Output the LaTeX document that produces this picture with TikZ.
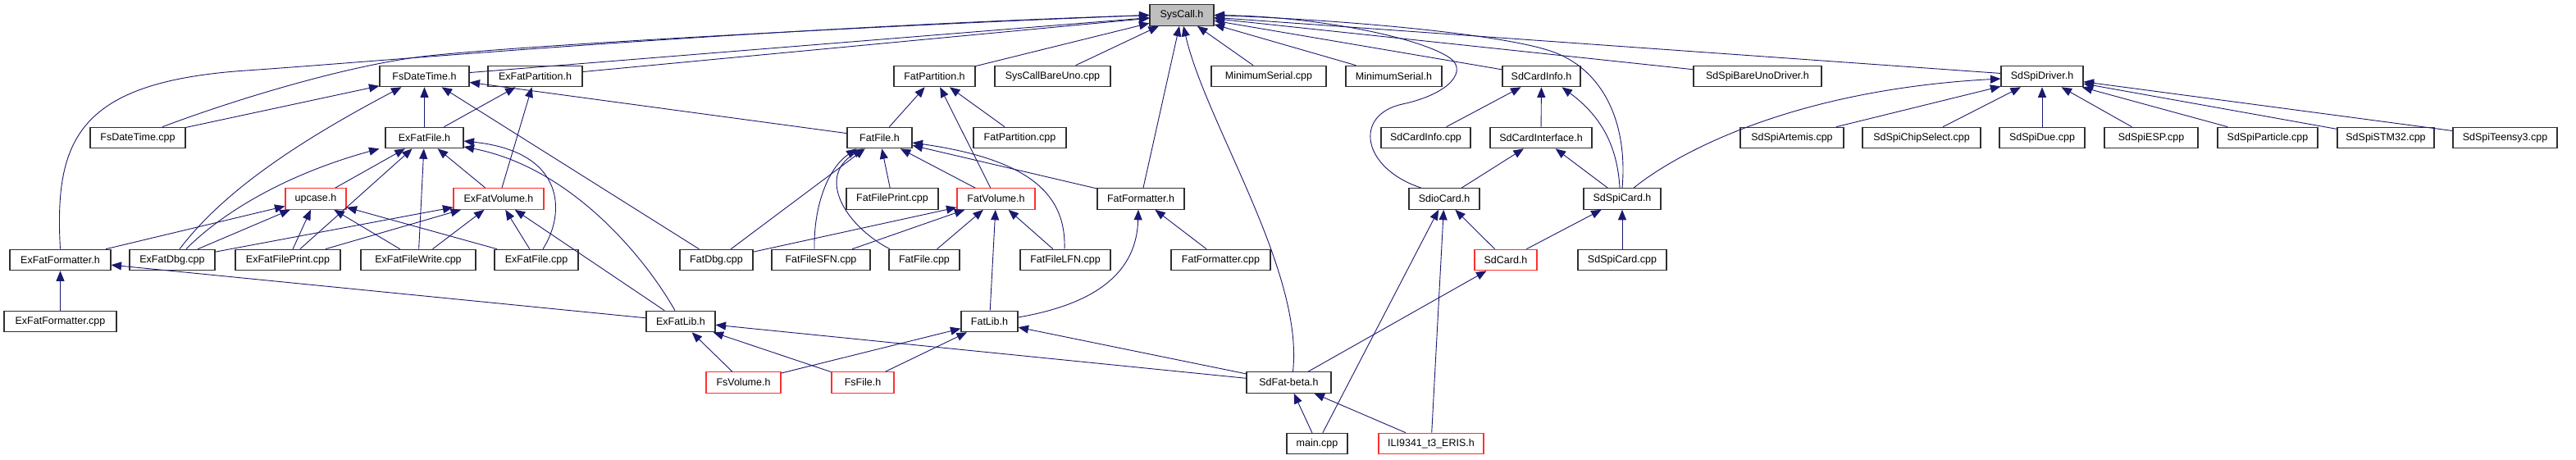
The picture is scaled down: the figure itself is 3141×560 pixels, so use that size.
\documentclass[tikz,border=0pt]{standalone}
\usepackage{fontspec}
\setmainfont{Liberation Sans}
\usetikzlibrary{arrows.meta}
\definecolor{edgecol}{HTML}{191970}
\definecolor{boxcol}{HTML}{303030}
\definecolor{redcol}{HTML}{FF3030}
\definecolor{rootfill}{HTML}{BFBFBF}
\begin{document}
\begin{tikzpicture}[x=1pt,y=-1pt,
  box/.style={draw=boxcol, line width=1.1pt, fill=white, minimum height=25.5pt, inner sep=0pt, font=\fontsize{12.5}{14}\selectfont},
  hot/.style={box, draw=redcol},
  root/.style={box, fill=rootfill},
  dep/.style={draw=edgecol, line width=0.9pt, -{Triangle[length=12.5pt,width=10pt]}}]
\useasboundingbox (0,0) rectangle (3141,560);
% row 0
\node[root, minimum width=78pt] (SysCall) at (1441,18.5) {SysCall.h};
% row 1
\node[box, minimum width=109pt] (FsDateTimeH) at (517.5,93) {FsDateTime.h};
\node[box, minimum width=115pt] (ExFatPartitionH) at (652.5,93) {ExFatPartition.h};
\node[box, minimum width=99pt] (FatPartitionH) at (1139.5,93) {FatPartition.h};
\node[box, minimum width=141pt] (SysCallBareUno) at (1283.5,93) {SysCallBareUno.cpp};
\node[box, minimum width=140pt] (MinSerialCpp) at (1547,93) {MinimumSerial.cpp};
\node[box, minimum width=117pt] (MinSerialH) at (1699.5,93) {MinimumSerial.h};
\node[box, minimum width=95pt] (SdCardInfoH) at (1879.5,93) {SdCardInfo.h};
\node[box, minimum width=156pt] (SdSpiBareUno) at (2143,93) {SdSpiBareUnoDriver.h};
\node[box, minimum width=100pt] (SdSpiDriverH) at (2490,93) {SdSpiDriver.h};
% row 2
\node[box, minimum width=116pt] (FsDateTimeCpp) at (168,168) {FsDateTime.cpp};
\node[box, minimum width=95pt] (ExFatFileH) at (517.5,168) {ExFatFile.h};
\node[box, minimum width=79pt] (FatFileH) at (1072.5,168) {FatFile.h};
\node[box, minimum width=113pt] (FatPartitionCpp) at (1243.5,168) {FatPartition.cpp};
\node[box, minimum width=109pt] (SdCardInfoCpp) at (1738.5,168) {SdCardInfo.cpp};
\node[box, minimum width=124pt] (SdCardInterfaceH) at (1879,168) {SdCardInterface.h};
\node[box, minimum width=126pt] (SdSpiArtemis) at (2185,168) {SdSpiArtemis.cpp};
\node[box, minimum width=144pt] (SdSpiChipSelect) at (2343,168) {SdSpiChipSelect.cpp};
\node[box, minimum width=104pt] (SdSpiDue) at (2490,168) {SdSpiDue.cpp};
\node[box, minimum width=114pt] (SdSpiESP) at (2623,168) {SdSpiESP.cpp};
\node[box, minimum width=122pt] (SdSpiParticle) at (2765,168) {SdSpiParticle.cpp};
\node[box, minimum width=118pt] (SdSpiSTM) at (2909,168) {SdSpiSTM32.cpp};
\node[box, minimum width=127pt] (SdSpiTeensy) at (3054.5,168) {SdSpiTeensy3.cpp};
% row 3
\node[hot, minimum width=74pt] (upcaseH) at (385,242.5) {upcase.h};
\node[hot, minimum width=110pt] (ExFatVolumeH) at (608,242.5) {ExFatVolume.h};
\node[box, minimum width=112pt] (FatFilePrintCpp) at (1088,242.5) {FatFilePrint.cpp};
\node[hot, minimum width=95pt] (FatVolumeH) at (1214.5,242.5) {FatVolume.h};
\node[box, minimum width=106pt] (FatFormatterH) at (1391,242.5) {FatFormatter.h};
\node[box, minimum width=86pt] (SdioCardH) at (1761,242.5) {SdioCard.h};
\node[box, minimum width=94pt] (SdSpiCardH) at (1978,242.5) {SdSpiCard.h};
% row 4
\node[box, minimum width=123pt] (ExFatFormatterH) at (73.5,317) {ExFatFormatter.h};
\node[box, minimum width=104pt] (ExFatDbgCpp) at (210,317) {ExFatDbg.cpp};
\node[box, minimum width=128pt] (ExFatFilePrintCpp) at (351,317) {ExFatFilePrint.cpp};
\node[box, minimum width=140pt] (ExFatFileWriteCpp) at (510,317) {ExFatFileWrite.cpp};
\node[box, minimum width=102pt] (ExFatFileCpp) at (654,317) {ExFatFile.cpp};
\node[box, minimum width=89pt] (FatDbgCpp) at (873.5,317) {FatDbg.cpp};
\node[box, minimum width=120pt] (FatFileSFNCpp) at (1001,317) {FatFileSFN.cpp};
\node[box, minimum width=86pt] (FatFileCpp) at (1127,317) {FatFile.cpp};
\node[box, minimum width=110pt] (FatFileLFNCpp) at (1299,317) {FatFileLFN.cpp};
\node[box, minimum width=121pt] (FatFormatterCpp) at (1488.5,317) {FatFormatter.cpp};
\node[hot, minimum width=76pt] (SdCardH) at (1836,317) {SdCard.h};
\node[box, minimum width=108pt] (SdSpiCardCpp) at (1978,317) {SdSpiCard.cpp};
% row 5
\node[box, minimum width=137pt] (ExFatFormatterCpp) at (73.5,392) {ExFatFormatter.cpp};
\node[box, minimum width=84pt] (ExFatLibH) at (830,392) {ExFatLib.h};
\node[box, minimum width=69pt] (FatLibH) at (1206.5,392) {FatLib.h};
% row 6
\node[hot, minimum width=91pt] (FsVolumeH) at (906.5,466.5) {FsVolume.h};
\node[hot, minimum width=76pt] (FsFileH) at (1052,466.5) {FsFile.h};
\node[box, minimum width=103pt] (SdFatBeta) at (1571.5,466.5) {SdFat-beta.h};
% row 7
\node[box, minimum width=74pt] (mainCpp) at (1606,541) {main.cpp};
\node[hot, minimum width=128pt] (ILI) at (1745,541) {ILI9341\_t3\_ERIS.h};

% ---- edges into SysCall.h
\draw[dep] (FsDateTimeH) -- (SysCall);
\draw[dep] ([xshift=30pt]FsDateTimeCpp.north) .. controls (290,120) and (430,78) .. (523,68)
   .. controls (650,54.4) and (1100,30) .. (SysCall.west);
\draw[dep] (ExFatFormatterH.north) .. controls (66,170) and (95,100) .. (300,86)
   .. controls (450,76) and (900,35) .. (SysCall.west);
\draw[dep] (ExFatPartitionH) -- (SysCall);
\draw[dep] (FatPartitionH) -- (SysCall);
\draw[dep] (SysCallBareUno) -- (SysCall);
\draw[dep] (FatFormatterH) -- (SysCall);
\draw[dep] ([xshift=5pt]SdFatBeta.north) .. controls (1590,330) and (1470,150) .. ([xshift=2pt]SysCall.south);
\draw[dep] (MinSerialCpp) -- (SysCall);
\draw[dep] (MinSerialH) -- (SysCall);
\draw[dep] (SdCardInfoH) -- (SysCall);
\draw[dep] ([xshift=-28pt]SdioCardH.north) .. controls (1660,205) and (1650,140) .. (1710,127)
   .. controls (1770,114) and (1790,85) .. (1767,70)
   .. controls (1727,44) and (1600,20) .. (SysCall.east);
\draw[dep] (SdSpiCardH.north) .. controls (1985,150) and (1955,85) .. (1893,63)
   .. controls (1833,42) and (1650,25) .. (SysCall.east);
\draw[dep] (SdSpiBareUno) -- (SysCall);
\draw[dep] (SdSpiDriverH) -- (SysCall);

% ---- FsDateTime.h
\draw[dep] (FsDateTimeCpp) -- (FsDateTimeH);
\draw[dep] (ExFatFileH) -- (FsDateTimeH);
\draw[dep] (FatFileH) -- (FsDateTimeH);
\draw[dep] (FatDbgCpp) -- (FsDateTimeH);
\draw[dep] ([xshift=9pt]ExFatDbgCpp.north) .. controls (260,250) and (330,190) .. ([xshift=-28pt]FsDateTimeH.south);

% ---- ExFatPartition.h
\draw[dep] (ExFatFileH) -- (ExFatPartitionH);
\draw[dep] (ExFatVolumeH) -- (ExFatPartitionH);

% ---- ExFatFile.h
\draw[dep] (upcaseH) -- (ExFatFileH);
\draw[dep] (ExFatVolumeH) -- (ExFatFileH);
\draw[dep] ([xshift=17pt]ExFatDbgCpp.north) .. controls (265,265) and (340,215) .. ([xshift=-55pt]ExFatFileH.south);
\draw[dep] (ExFatFilePrintCpp) -- (ExFatFileH);
\draw[dep] (ExFatFileWriteCpp) -- (ExFatFileH);
\draw[dep] ([xshift=8pt]ExFatFileCpp.north) .. controls (690,260) and (690,185) .. ([yshift=-4pt]ExFatFileH.east);
\draw[dep] ([xshift=-7pt]ExFatLibH.north) .. controls (790,320) and (700,205) .. ([yshift=-11pt]ExFatFileH.east);

% ---- upcase.h
\draw[dep] (ExFatFormatterH) -- (upcaseH);
\draw[dep] (ExFatDbgCpp) -- (upcaseH);
\draw[dep] (ExFatFilePrintCpp) -- (upcaseH);
\draw[dep] (ExFatFileWriteCpp) -- (upcaseH);
\draw[dep] (ExFatFileCpp) -- (upcaseH);

% ---- ExFatVolume.h
\draw[dep] (ExFatDbgCpp) -- (ExFatVolumeH);
\draw[dep] (ExFatFilePrintCpp) -- (ExFatVolumeH);
\draw[dep] (ExFatFileWriteCpp) -- (ExFatVolumeH);
\draw[dep] (ExFatFileCpp) -- (ExFatVolumeH);
\draw[dep] (ExFatLibH) -- (ExFatVolumeH);

% ---- ExFatFormatter.h
\draw[dep] (ExFatFormatterCpp) -- (ExFatFormatterH);
\draw[dep] (ExFatLibH) -- (ExFatFormatterH);

% ---- ExFatLib.h
\draw[dep] (FsVolumeH) -- (ExFatLibH);
\draw[dep] (FsFileH) -- (ExFatLibH);
\draw[dep] (SdFatBeta) -- (ExFatLibH);

% ---- FatPartition.h
\draw[dep] (FatFileH) -- (FatPartitionH);
\draw[dep] (FatVolumeH) -- (FatPartitionH);
\draw[dep] (FatPartitionCpp) -- (FatPartitionH);

% ---- FatFile.h
\draw[dep] (FatFilePrintCpp) -- (FatFileH);
\draw[dep] (FatVolumeH) -- (FatFileH);
\draw[dep] (FatDbgCpp) -- (FatFileH);
\draw[dep] ([xshift=-8pt]FatFileSFNCpp.north) .. controls (992,250) and (1010,205) .. ([xshift=-28pt]FatFileH.south);
\draw[dep] ([xshift=-42pt]FatFileCpp.north) .. controls (1030,275) and (995,215) .. ([xshift=-20pt]FatFileH.south);
\draw[dep] ([xshift=-1pt]FatFileLFNCpp.north) .. controls (1300,240) and (1260,195) .. ([yshift=-6pt]FatFileH.east);
\draw[dep] (FatFormatterH) -- (FatFileH);

% ---- FatVolume.h
\draw[dep] (FatDbgCpp) -- (FatVolumeH);
\draw[dep] (FatFileSFNCpp) -- (FatVolumeH);
\draw[dep] (FatFileCpp) -- (FatVolumeH);
\draw[dep] (FatFileLFNCpp) -- (FatVolumeH);
\draw[dep] (FatLibH) -- (FatVolumeH);

% ---- FatFormatter.h
\draw[dep] (FatFormatterCpp) -- (FatFormatterH);
\draw[dep] ([yshift=5pt]FatLibH.east) .. controls (1340,370) and (1386,330) .. ([xshift=-3pt]FatFormatterH.south);

% ---- FatLib.h
\draw[dep] (FsVolumeH) -- (FatLibH);
\draw[dep] (FsFileH) -- (FatLibH);
\draw[dep] (SdFatBeta) -- (FatLibH);

% ---- SdFat-beta.h / SdCard.h / SdioCard.h
\draw[dep] (SdFatBeta) -- (SdCardH);
\draw[dep] (mainCpp) -- (SdFatBeta);
\draw[dep] (ILI) -- (SdFatBeta);
\draw[dep] (mainCpp) -- (SdioCardH);
\draw[dep] (ILI) -- (SdioCardH);
\draw[dep] (SdCardH) -- (SdioCardH);
\draw[dep] (SdCardH) -- (SdSpiCardH);
\draw[dep] (SdSpiCardCpp) -- (SdSpiCardH);

% ---- SdCardInterface.h / SdCardInfo.h
\draw[dep] (SdioCardH) -- (SdCardInterfaceH);
\draw[dep] (SdSpiCardH) -- (SdCardInterfaceH);
\draw[dep] (SdCardInfoCpp) -- (SdCardInfoH);
\draw[dep] (SdCardInterfaceH) -- (SdCardInfoH);
\draw[dep] ([xshift=-3pt]SdSpiCardH.north) .. controls (1972,175) and (1950,140) .. ([xshift=25pt]SdCardInfoH.south);

% ---- SdSpiDriver.h
\draw[dep] ([xshift=14pt]SdSpiCardH.north) .. controls (2040,190) and (2180,110) .. ([yshift=-3pt]SdSpiDriverH.west);
\draw[dep] (SdSpiArtemis) -- (SdSpiDriverH);
\draw[dep] (SdSpiChipSelect) -- (SdSpiDriverH);
\draw[dep] (SdSpiDue) -- (SdSpiDriverH);
\draw[dep] (SdSpiESP) -- (SdSpiDriverH);
\draw[dep] (SdSpiParticle) -- (SdSpiDriverH);
\draw[dep] (SdSpiSTM) -- (SdSpiDriverH);
\draw[dep] (SdSpiTeensy) -- (SdSpiDriverH);
\end{tikzpicture}
\end{document}
